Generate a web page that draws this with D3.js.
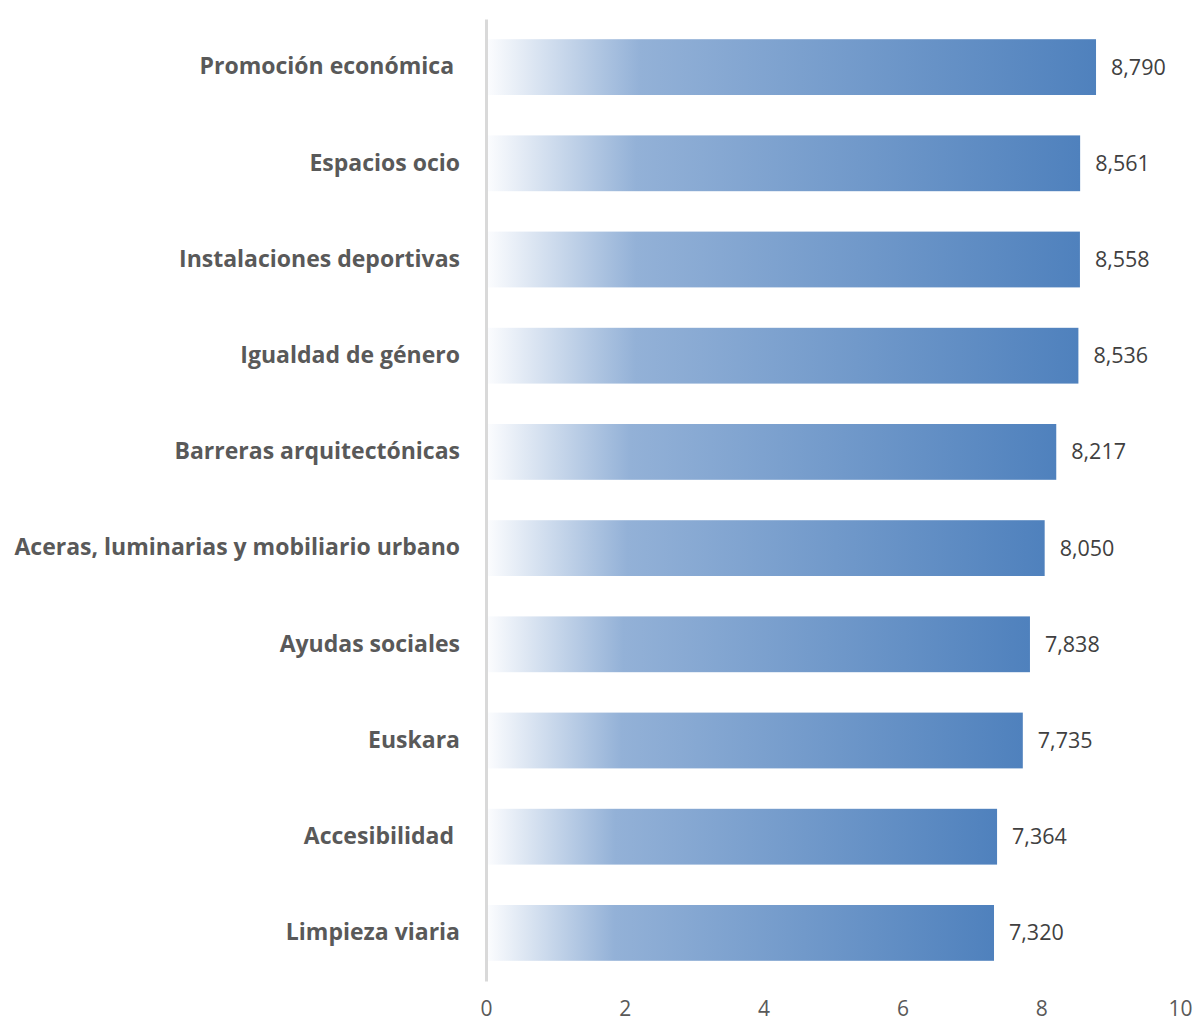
<!DOCTYPE html>
<html>
<head>
<meta charset="utf-8">
<script src="https://cdn.jsdelivr.net/npm/d3@7"></script>
<style>
  body { margin: 0; background: #fff; }
  text { font-family: "Open Sans", Lato, sans-serif; }
</style>
</head>
<body>
<svg id="chart" width="1194" height="1021"></svg>
<script>
// categories and values, top to bottom
const categories = [
  "Promoción económica ",
  "Espacios ocio",
  "Instalaciones deportivas",
  "Igualdad de género",
  "Barreras arquitectónicas",
  "Aceras, luminarias y mobiliario urbano",
  "Ayudas sociales",
  "Euskara",
  "Accesibilidad ",
  "Limpieza viaria"
]
const values = [8.790, 8.561, 8.558, 8.536, 8.217, 8.050, 7.838, 7.735, 7.364, 7.320]
const xTicks = [0, 2, 4, 6, 8, 10]

const plotLeft = 486
const plotRight = 1180
const plotTop = 19
const plotBottom = 981

const data = categories.map((c, i) => ({ name: c, value: values[i] }))

const svg = d3.select("#chart")

const defs = svg.append("defs")
const grad = defs.append("linearGradient")
  .attr("id", "barGrad")
  .attr("x1", "0%").attr("x2", "100%")
  .attr("y1", "0%").attr("y2", "0%")
grad.append("stop").attr("offset", "0%").attr("stop-color", "#fbfcfe")
grad.append("stop").attr("offset", "25%").attr("stop-color", "#93b1d7")
grad.append("stop").attr("offset", "100%").attr("stop-color", "#4f81bd")

const xScale = d3.scaleLinear()
  .domain([0, 10])
  .range([plotLeft, plotRight])

const yScale = d3.scaleBand()
  .domain(categories)
  .range([plotTop, plotBottom])
  .paddingInner(0.42)
  .paddingOuter(0.21)

svg.selectAll("rect.bar")
  .data(data)
  .enter()
  .append("rect")
  .attr("class", "bar")
  .attr("x", xScale(0) + 2)
  .attr("y", d => yScale(d.name))
  .attr("width", d => xScale(d.value) - xScale(0) - 2)
  .attr("height", yScale.bandwidth())
  .attr("fill", "url(#barGrad)")

// value labels
svg.selectAll("text.val")
  .data(data)
  .enter()
  .append("text")
  .attr("class", "val")
  .attr("x", d => xScale(d.value) + 15)
  .attr("y", d => yScale(d.name) + yScale.bandwidth() / 2)
  .attr("dy", "0.35em")
  .attr("font-size", 21.5)
  .attr("fill", "#404040")
  .text(d => d3.format(".3f")(d.value).replace(".", ","))

// category axis
const yAxis = d3.axisLeft(yScale).tickSize(0).tickPadding(26)
const gy = svg.append("g")
  .attr("id", "y-axis")
  .attr("transform", `translate(${plotLeft}, 0)`)
  .call(yAxis)
gy.select(".domain")
  .attr("stroke", "#d9d9d9")
  .attr("stroke-width", 3)
gy.selectAll("text")
  .attr("font-family", "'Open Sans', Lato, sans-serif")
  .attr("font-size", 23)
  .attr("font-weight", "bold")
  .attr("fill", "#595959")
  .style("white-space", "pre")

// value axis
const xAxis = d3.axisBottom(xScale).tickValues(xTicks).tickSize(0).tickPadding(20)
const gx = svg.append("g")
  .attr("id", "x-axis")
  .attr("transform", `translate(0, ${plotBottom})`)
  .call(xAxis)
gx.select(".domain").remove()
gx.selectAll("text")
  .attr("font-family", "'Open Sans', Lato, sans-serif")
  .attr("font-size", 21)
  .attr("fill", "#595959")
</script>
</body>
</html>
